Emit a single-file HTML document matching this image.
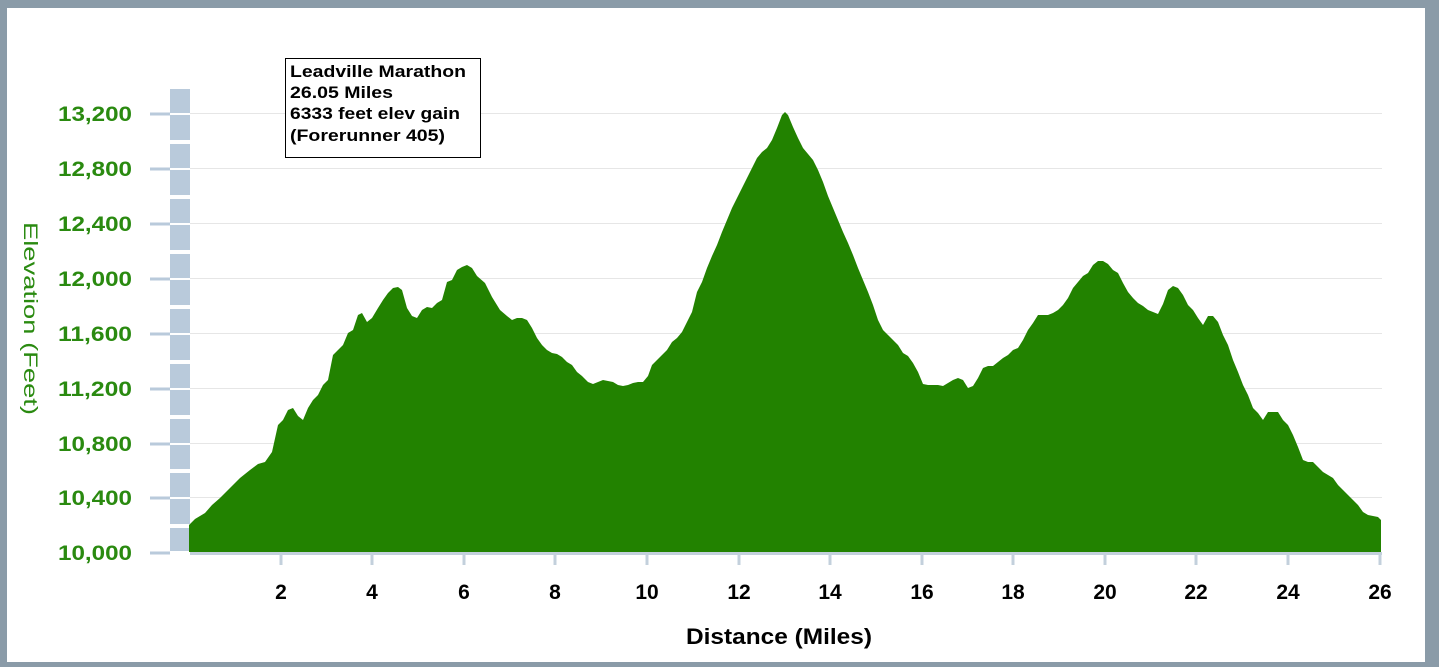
<!DOCTYPE html>
<html><head><meta charset="utf-8"><style>
html,body{margin:0;padding:0;background:#8a9ba8;}
svg{display:block}
</style></head><body>
<svg width="1439" height="667" xmlns="http://www.w3.org/2000/svg" font-family="Liberation Sans, Arial, sans-serif">
<rect x="0" y="0" width="1439" height="667" fill="#8a9ba8"/>
<rect x="7" y="8" width="1418" height="654" fill="#ffffff"/>
<g stroke="#e6e6e6" stroke-width="1">
<line x1="190" y1="113.5" x2="1382" y2="113.5"/>
<line x1="190" y1="168.5" x2="1382" y2="168.5"/>
<line x1="190" y1="223.5" x2="1382" y2="223.5"/>
<line x1="190" y1="278.5" x2="1382" y2="278.5"/>
<line x1="190" y1="333.5" x2="1382" y2="333.5"/>
<line x1="190" y1="388.5" x2="1382" y2="388.5"/>
<line x1="190" y1="443.5" x2="1382" y2="443.5"/>
<line x1="190" y1="497.5" x2="1382" y2="497.5"/>
</g>
<rect x="170" y="89" width="20" height="464" fill="#b9cadb"/>
<g fill="#ffffff">
<rect x="170" y="113" width="20" height="2"/><rect x="170" y="140" width="20" height="4"/>
<rect x="170" y="168" width="20" height="2"/><rect x="170" y="195" width="20" height="4"/>
<rect x="170" y="223" width="20" height="2"/><rect x="170" y="250" width="20" height="4"/>
<rect x="170" y="278" width="20" height="2"/><rect x="170" y="305" width="20" height="4"/>
<rect x="170" y="333" width="20" height="2"/><rect x="170" y="360" width="20" height="4"/>
<rect x="170" y="388" width="20" height="2"/><rect x="170" y="415" width="20" height="4"/>
<rect x="170" y="443" width="20" height="2"/><rect x="170" y="469" width="20" height="4"/>
<rect x="170" y="497" width="20" height="2"/><rect x="170" y="524" width="20" height="4"/>
<rect x="170" y="551" width="20" height="2"/>
</g>
<g stroke="#b9cadb" stroke-width="3">
<line x1="150" y1="114" x2="170" y2="114"/><line x1="150" y1="169" x2="170" y2="169"/>
<line x1="150" y1="224" x2="170" y2="224"/><line x1="150" y1="279" x2="170" y2="279"/>
<line x1="150" y1="334" x2="170" y2="334"/><line x1="150" y1="389" x2="170" y2="389"/>
<line x1="150" y1="444" x2="170" y2="444"/><line x1="150" y1="498" x2="170" y2="498"/>
<line x1="150" y1="553" x2="170" y2="553"/>
</g>
<polygon fill="#228200" points="189,552 189,525 195,519 205,513 212,505 220,498 230,488 240,478 250,470 258,464 265,462 272,452 278,425 283,420 288,410 293,408 298,416 303,420 308,408 313,400 318,395 323,385 328,380 333,355 338,350 343,345 348,333 353,330 358,315 362,313 367,322 372,318 378,308 383,300 388,293 393,288 398,287 402,290 407,308 412,316 417,318 422,310 427,307 432,308 437,303 442,300 447,282 452,280 457,270 462,267 467,265 472,268 477,276 485,283 492,297 500,310 507,316 512,320 517,318 522,318 527,320 532,328 537,338 542,345 547,350 552,353 557,354 562,357 567,362 572,365 577,372 582,376 588,382 593,384 598,382 603,380 608,381 613,382 618,385 623,386 628,385 633,383 638,382 643,382 648,376 652,365 657,360 662,355 667,350 672,342 677,338 682,332 687,322 692,312 697,292 702,282 707,268 712,256 717,245 722,232 727,220 732,208 737,198 742,188 747,178 752,168 757,158 762,152 767,148 772,140 777,128 782,115 785,112 788,115 793,127 798,138 803,148 808,154 813,160 818,170 823,182 828,196 833,208 838,220 843,232 848,243 853,255 858,268 863,280 868,292 873,305 878,320 883,330 888,335 893,340 898,345 903,353 908,356 913,363 918,372 923,384 928,385 933,385 938,385 943,386 948,383 953,380 958,378 963,380 968,388 973,386 978,378 983,368 988,366 993,366 998,362 1003,358 1008,355 1013,350 1018,348 1023,340 1028,330 1033,323 1038,315 1043,315 1048,315 1053,313 1058,310 1063,305 1068,298 1073,288 1078,282 1083,276 1088,273 1093,265 1098,261 1103,261 1108,264 1113,270 1118,273 1123,283 1128,292 1133,298 1138,303 1143,306 1148,310 1153,312 1158,314 1163,304 1168,290 1173,286 1178,288 1183,295 1188,305 1193,310 1198,318 1203,325 1208,316 1213,316 1218,322 1223,335 1228,345 1233,360 1238,372 1243,385 1248,395 1253,408 1258,413 1263,420 1268,412 1273,412 1278,412 1283,420 1288,425 1293,435 1298,447 1303,460 1308,462 1313,462 1318,467 1323,472 1328,475 1333,478 1338,485 1343,490 1348,495 1353,500 1358,505 1363,512 1368,515 1373,516 1378,517 1381,520 1381,552"/>
<rect x="190" y="552" width="1192" height="3" fill="#c3d0dc"/>
<g stroke="#c3d0dc" stroke-width="3">
<line x1="281" y1="555" x2="281" y2="565"/><line x1="372" y1="555" x2="372" y2="565"/>
<line x1="464" y1="555" x2="464" y2="565"/><line x1="555" y1="555" x2="555" y2="565"/>
<line x1="647" y1="555" x2="647" y2="565"/><line x1="739" y1="555" x2="739" y2="565"/>
<line x1="830" y1="555" x2="830" y2="565"/><line x1="922" y1="555" x2="922" y2="565"/>
<line x1="1013" y1="555" x2="1013" y2="565"/><line x1="1105" y1="555" x2="1105" y2="565"/>
<line x1="1196" y1="555" x2="1196" y2="565"/><line x1="1288" y1="555" x2="1288" y2="565"/>
<line x1="1380" y1="555" x2="1380" y2="565"/>
</g>
<g fill="#2a8a10" font-size="21" font-weight="bold">
<text x="58" y="121" textLength="74" lengthAdjust="spacingAndGlyphs">13,200</text>
<text x="58" y="176" textLength="74" lengthAdjust="spacingAndGlyphs">12,800</text>
<text x="58" y="231" textLength="74" lengthAdjust="spacingAndGlyphs">12,400</text>
<text x="58" y="286" textLength="74" lengthAdjust="spacingAndGlyphs">12,000</text>
<text x="58" y="341" textLength="74" lengthAdjust="spacingAndGlyphs">11,600</text>
<text x="58" y="396" textLength="74" lengthAdjust="spacingAndGlyphs">11,200</text>
<text x="58" y="451" textLength="74" lengthAdjust="spacingAndGlyphs">10,800</text>
<text x="58" y="505" textLength="74" lengthAdjust="spacingAndGlyphs">10,400</text>
<text x="58" y="560" textLength="74" lengthAdjust="spacingAndGlyphs">10,000</text>
</g>
<text transform="translate(24,222) rotate(90)" fill="#2a8a10" font-size="19" textLength="193" lengthAdjust="spacingAndGlyphs">Elevation (Feet)</text>
<g fill="#000" font-size="21" font-weight="bold" text-anchor="middle">
<text x="281" y="599">2</text><text x="372" y="599">4</text><text x="464" y="599">6</text>
<text x="555" y="599">8</text><text x="647" y="599">10</text><text x="739" y="599">12</text>
<text x="830" y="599">14</text><text x="922" y="599">16</text><text x="1013" y="599">18</text>
<text x="1105" y="599">20</text><text x="1196" y="599">22</text><text x="1288" y="599">24</text>
<text x="1380" y="599">26</text>
</g>
<text x="686" y="644" font-size="22" font-weight="bold" fill="#000" textLength="186" lengthAdjust="spacingAndGlyphs">Distance (Miles)</text>
<rect x="285.5" y="58.5" width="195" height="99" fill="#fff" stroke="#000" stroke-width="1"/>
<g font-size="17" font-weight="bold" fill="#000">
<text x="290" y="77" textLength="176" lengthAdjust="spacingAndGlyphs">Leadville Marathon</text>
<text x="290" y="98" textLength="103" lengthAdjust="spacingAndGlyphs">26.05 Miles</text>
<text x="290" y="119" textLength="170" lengthAdjust="spacingAndGlyphs">6333 feet elev gain</text>
<text x="290" y="141" textLength="155" lengthAdjust="spacingAndGlyphs">(Forerunner 405)</text>
</g>
</svg>
</body></html>
